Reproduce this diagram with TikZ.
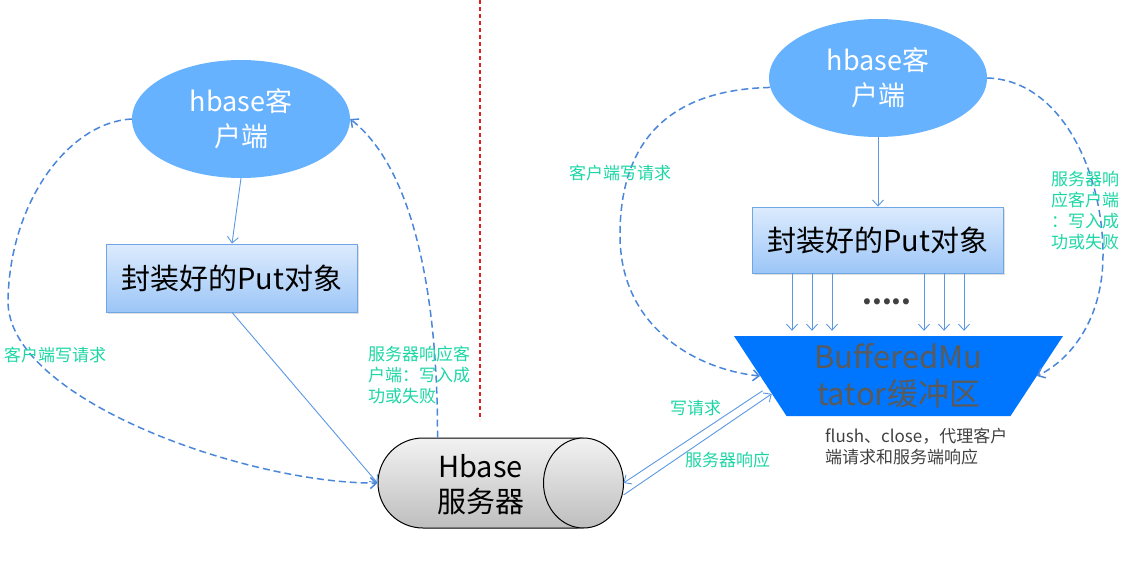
\documentclass[tikz,border=0pt]{standalone}
\usepackage{fontspec}
\setmainfont{Noto Sans CJK SC}
\usepackage{tikz}
\usetikzlibrary{positioning,shapes.geometric,shapes.misc,arrows.meta,calc,shadows}
\definecolor{clientFill}{HTML}{66B2FF}
\definecolor{boxTop}{HTML}{DDEBFD}
\definecolor{boxBottom}{HTML}{9CC6F7}
\definecolor{boxEdge}{HTML}{6FA6E6}
\definecolor{flowLine}{HTML}{5A98E2}
\definecolor{loopLine}{HTML}{4A86DA}
\definecolor{noteText}{HTML}{1CD6A4}
\definecolor{bufferFill}{HTML}{0076FF}
\definecolor{bufferText}{HTML}{5A5A5A}
\definecolor{bufferNote}{HTML}{404040}
\definecolor{serverTop}{HTML}{F2F2F2}
\definecolor{serverBottom}{HTML}{BEBEBE}
\definecolor{splitLine}{HTML}{E02020}

\begin{document}
\begin{tikzpicture}[
    x=1pt, y=-1pt,
    every node/.style = {align=center, inner sep=0pt},
    client/.style     = {ellipse, fill=clientFill, text=white,
                         minimum width=218pt, minimum height=118pt,
                         font=\fontsize{27}{35}\selectfont},
    putbox/.style     = {rectangle, draw=boxEdge, line width=0.8pt,
                         top color=boxTop, bottom color=boxBottom,
                         minimum width=251pt, font=\fontsize{29}{33}\selectfont,
                         drop shadow={opacity=0.25, shadow xshift=1.5pt, shadow yshift=-2pt}},
    serverbody/.style = {rounded rectangle, draw=black, line width=1pt,
                         top color=serverTop, bottom color=serverBottom,
                         minimum width=245pt, minimum height=90pt},
    serverface/.style = {draw=black, line width=1pt,
                         top color=serverTop, bottom color=serverBottom},
    servertext/.style = {font=\fontsize{29}{35}\selectfont},
    buffer/.style     = {trapezium, shape border rotate=180, trapezium angle=50.9,
                         trapezium stretches body, fill=bufferFill, text=bufferText,
                         minimum width=329pt, minimum height=80pt,
                         font=\fontsize{31}{37}\selectfont},
    note/.style       = {font=\fontsize{17}{21}\selectfont, text=noteText, align=left},
    flow/.style       = {-{Straight Barb[length=6pt,width=11pt]}, draw=flowLine,
                         line width=0.9pt},
    loop/.style       = {flow, dash pattern=on 7pt off 4pt, line width=1.5pt,
                         draw=loopLine},
    split/.style      = {draw=splitLine, line width=1.2pt, dash pattern=on 4pt off 3pt},
  ]
  \useasboundingbox (0,0) rectangle (1133,568);

  %% Left half: direct write path
  \node[client] (lclient) at (241,119) {hbase客\\户端};
  \node[putbox, minimum height=68pt] (lbox) at (232,278) {封装好的Put对象};

  %% Server drum: body, end face, then its text
  \node[serverbody] (srv) at (500.5,483) {};
  \draw[serverface] ($(srv.east)+(-40,0)$) ellipse [x radius=40pt, y radius=45pt];
  \node[servertext] (srvtext) at ($(srv.center)+(-20,1.5)$) {Hbase\\服务器};

  \draw[flow] (lclient.south) -- (lbox.north);
  \draw[flow] (lbox.south) -- (srv.west);

  %% Request loop on the far left, response loop next to the split
  \draw[loop] (lclient.west) .. controls (70,122) and (10,200) .. (8,300)
                             .. controls (6,400) and (250,484) .. (srv.west);
  \draw[loop] ($(srv.north)+(-63,0)$) .. controls (438,300) and (415,170) .. (lclient.east);
  \node[note, anchor=west] (lreq) at (4,355) {客户端写请求};
  \node[note, anchor=north west] (lresp) at (368,346) {服务器响应客\\户端：写入成\\功或失败};

  %% Split between the two halves
  \coordinate (splitTop) at (480,0);
  \coordinate (splitEnd) at (480,420);
  \draw[split] (splitTop) -- (splitEnd);

  %% Right half: write path through the buffer
  \node[client] (rclient) at (878,78) {hbase客\\户端};
  \node[putbox, minimum height=66pt] (rbox) at (878,240) {封装好的Put对象};
  \node[buffer] (buf) at (898.5,376) {BufferedMu\\tator缓冲区};

  \draw[flow] (rclient.south) -- (rbox.north);
  \foreach \dx in {-86,-66,-46,46,66,86}
    \draw[flow, shorten >=5pt] ([xshift=\dx pt]rbox.south) -- ([xshift=\dx pt]rbox.south |- buf.90);
  \node[text=bufferNote, font=\fontsize{28}{28}\bfseries] (dots) at (887,302) {.....};

  \draw[loop] (rclient.185) .. controls (660,90) and (620,150) .. (620,235)
                            .. controls (620,330) and (700,370) .. (buf.180);
  \draw[loop] (rclient.east) .. controls (1060,80) and (1103,170) .. (1103,255)
                             .. controls (1103,320) and (1070,360) .. (buf.0);
  \node[note, anchor=west] (rreq) at (569,173) {客户端写请求};
  \node[note, anchor=north west] (rresp) at (1051,171) {服务器响\\应客户端\\：写入成\\功或失败};

  %% Buffer <-> server
  \draw[flow, shorten <=6pt] (buf.185) -- (srv.east);
  \draw[flow] ([yshift=-12pt]srv.east) -- (buf.188);
  \node[note, anchor=west] (wreq) at (670,408) {写请求};
  \node[note, anchor=west] (wresp) at (685,460) {服务器响应};
  \node[font=\fontsize{17}{21}\selectfont, text=bufferNote, align=left, anchor=north west]
    (bufnote) at (825,428) {flush、close，代理客户\\端请求和服务端响应};

\end{tikzpicture}
\end{document}
